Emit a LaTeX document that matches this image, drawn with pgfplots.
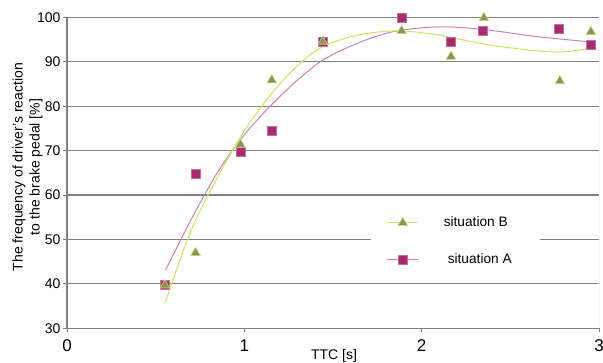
\documentclass[border=0pt]{standalone}
\usepackage{pgfplots}
\pgfplotsset{compat=1.18}
\usepackage{fontspec}
\setmainfont{Liberation Sans}
\definecolor{gridc}{RGB}{128,128,128}
\definecolor{sqfill}{RGB}{165,45,108}
\definecolor{sqedge}{RGB}{200,110,160}
\definecolor{trfill}{RGB}{138,145,105}
\definecolor{tredge}{RGB}{195,225,90}
\definecolor{lineA}{RGB}{205,130,180}
\definecolor{lineB}{RGB}{200,230,100}
\begin{document}
\begin{tikzpicture}
\useasboundingbox (0,0) rectangle (603bp,363bp);
\begin{axis}[
  at={(67bp,34.7bp)}, anchor=south west,
  scale only axis, width=532bp, height=310.8bp,
  xmin=0, xmax=3, ymin=30, ymax=100,
  xtick={0,1,2,3}, ytick={30,40,...,100},
  axis x line*=bottom, axis y line*=left,
  axis line style={gridc, line width=1.3bp, -},
  ymajorgrids, grid style={gridc, line width=1.2bp},
  tick align=outside, major tick length=4bp,
  tick style={gridc, line width=0.8bp},
  /pgf/number format/assume math mode=true,
  xticklabel style={font=\fontsize{17bp}{20bp}\selectfont, yshift=-4bp},
  yticklabel style={font=\fontsize{14bp}{17bp}\selectfont, xshift=1bp},
  label style={font=\fontsize{14bp}{17bp}\selectfont},
  xlabel={TTC [s]},
  xlabel style={at={(axis description cs:0.502,-0.089)}, anchor=center},
  ylabel={The frequency of driver's reaction\\to the brake pedal [\%]},
  ylabel style={align=center, at={(axis description cs:-0.074,0.519)}, anchor=center},
  legend style={at={(axis cs:1.712,49.6)}, anchor=west, fill=white, draw=none,
    inner xsep=16bp, inner ysep=14bp, column sep=25bp, row sep=24bp,
    nodes={inner sep=0pt, text height=10bp, text depth=3bp},
    font=\fontsize{13.7bp}{16bp}\selectfont},
  legend cell align=left,
  legend image code/.code={\draw[#1, mark repeat=2, mark phase=2] plot coordinates {(0bp,0bp) (15.5bp,0bp) (31bp,0bp)};},
]
% fitted curves
\addplot[lineA, line width=1bp, smooth, forget plot] coordinates {
(0.556,43.1) (0.7,54.5) (0.85,65.2) (1.0,73.6) (1.15,80.2) (1.3,85.9) (1.45,90.6)
(1.65,94.4) (1.85,96.9) (2.1,97.9) (2.35,97.3) (2.65,95.7) (2.952,94.5)};
\addplot[lineB, line width=1bp, smooth, forget plot] coordinates {
(0.552,35.6) (0.7,52.1) (0.85,64.1) (1.0,74.5) (1.15,82.7) (1.3,89.2) (1.45,93.6)
(1.65,96.1) (1.87,97.0) (2.1,96.0) (2.4,93.7) (2.75,92.2) (2.952,93.1)};
% situation A data
\addplot[only marks, mark=square*, mark size=4.5bp, mark options={fill=sqfill, draw=sqedge, line width=0.6bp}, forget plot] coordinates {
(0.552,39.7) (0.725,64.8) (0.978,69.7) (1.153,74.4) (1.442,94.6)
(1.887,100) (2.163,94.6) (2.347,97.0) (2.776,97.4) (2.952,93.8)};
% situation B data
\addplot[only marks, mark=triangle*, mark size=5.5bp, mark options={fill=trfill, draw=tredge, line width=0.6bp}, forget plot] coordinates {
(0.552,39.7) (0.725,47.0) (0.978,71.4) (1.155,85.9) (1.442,94.6)
(1.887,97.0) (2.165,91.2) (2.351,99.9) (2.779,85.7) (2.954,96.8)};
\draw[gray!45, line width=1bp] (axis cs:3,30) -- (axis cs:3,100);
\addlegendimage{lineB, line width=1bp, mark=triangle*, mark size=5.5bp, mark options={fill=trfill, draw=tredge, line width=0.6bp}}
\addlegendentry{\makebox[80bp][l]{situation B}}
\addlegendimage{lineA, line width=1bp, mark=square*, mark size=4.5bp, mark options={fill=sqfill, draw=sqedge, line width=0.6bp}}
\addlegendentry{\makebox[80bp][l]{\hspace{4bp}situation A}}
\end{axis}
\end{tikzpicture}
\end{document}
